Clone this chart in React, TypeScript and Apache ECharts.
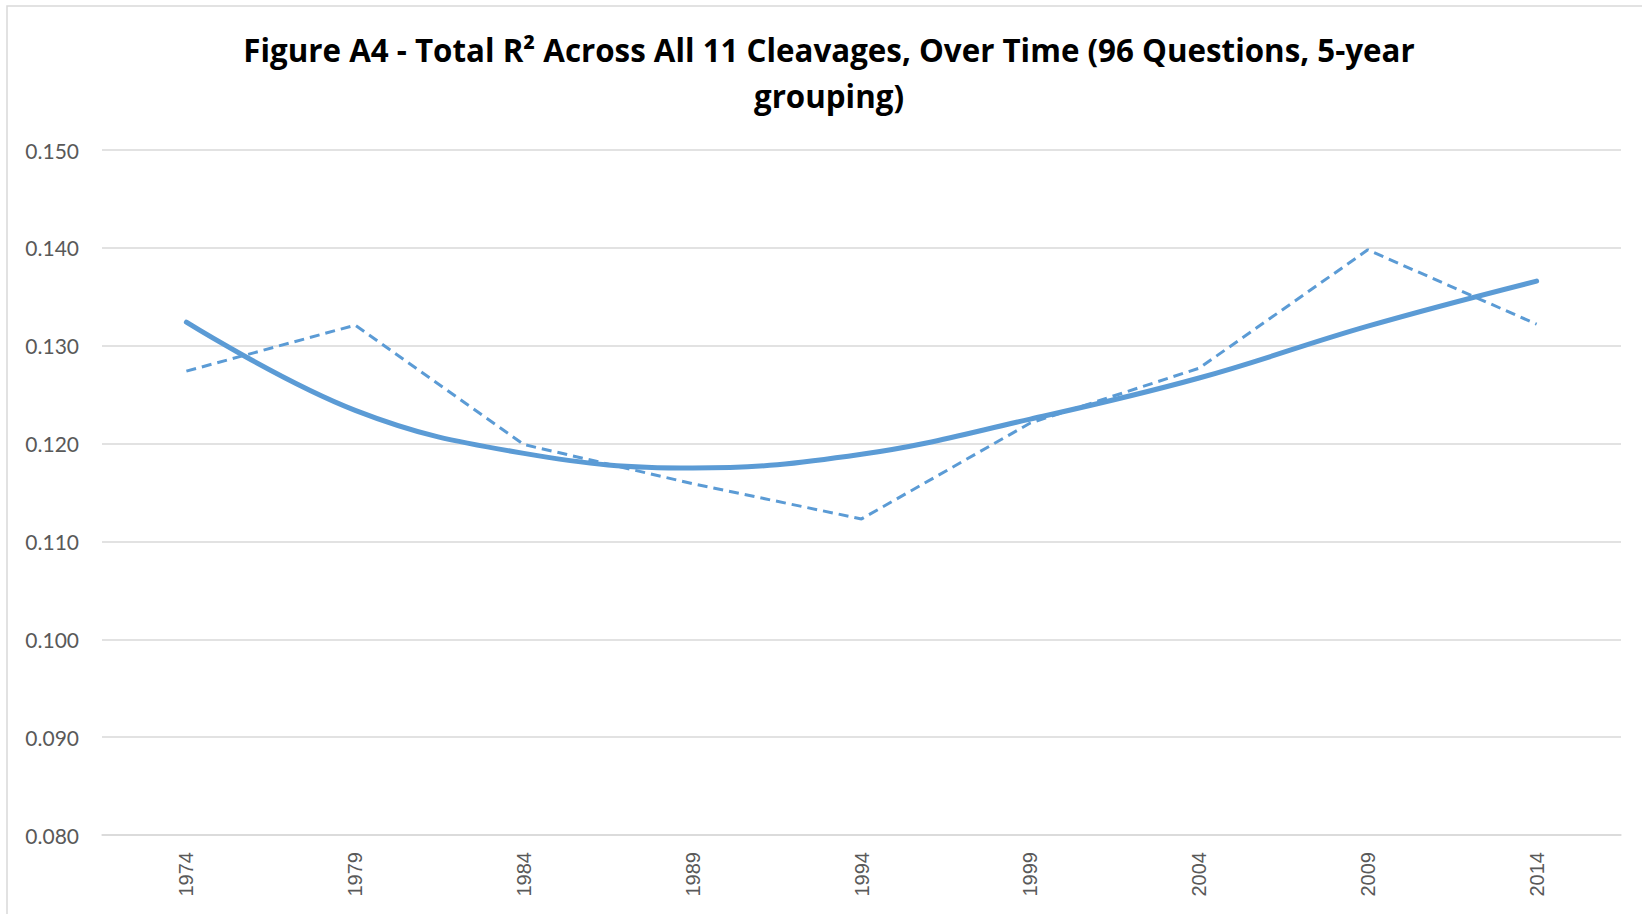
import React, { useEffect, useRef } from "react";
import * as echarts from "echarts";

const years = ["1974", "1979", "1984", "1989", "1994", "1999", "2004", "2009", "2014"];
const totalR2 = [0.1274, 0.1321, 0.1199, 0.1159, 0.1123, 0.1221, 0.1277, 0.1398, 0.1322];
const trendR2 = [0.1324, 0.1234, 0.119, 0.1175, 0.1189, 0.1225, 0.1267, 0.1320, 0.1366];
const titleLines = [
  "Figure A4 - Total R\u00B2 Across All 11 Cleavages, Over Time (96 Questions, 5-year",
  "grouping)",
];

export default function App() {
  const ref = useRef<HTMLDivElement>(null);
  useEffect(() => {
    if (!ref.current) return;
    const chart = echarts.init(ref.current, undefined, { renderer: "svg" });
    const blue = "#5B9BD5";
    chart.setOption({
      animation: false,
      backgroundColor: "#ffffff",
      title: {
        text: titleLines.join("\n"),
        left: 829,
        top: 27,
        padding: 0,
        textAlign: "center",
        textStyle: {
          fontFamily: "Open Sans",
          fontWeight: "bold",
          fontSize: 31.3,
          lineHeight: 46,
          color: "#000000",
        },
      },
      graphic: [
        {
          type: "rect",
          shape: { x: 7, y: 6, width: 1660, height: 930 },
          style: { fill: "none", stroke: "#d9d9d9", lineWidth: 1.5 },
          silent: true,
        },
      ],
      grid: { left: 102, right: 21, top: 150, bottom: 79 },
      xAxis: {
        type: "category",
        data: years,
        boundaryGap: true,
        axisTick: { show: false },
        axisLine: { show: true, lineStyle: { color: "#d9d9d9", width: 1.5 } },
        axisLabel: {
          rotate: 90,
          margin: 17,
          fontFamily: "Liberation Sans",
          fontSize: 20,
          color: "#595959",
        },
      },
      yAxis: {
        type: "value",
        min: 0.08,
        max: 0.15,
        interval: 0.01,
        axisLine: { show: false },
        axisTick: { show: false },
        splitLine: { lineStyle: { color: "#d9d9d9", width: 1.5 } },
        axisLabel: {
          margin: 23,
          fontFamily: "Lato",
          fontSize: 21,
          color: "#595959",
          formatter: (v: number) => v.toFixed(3),
        },
      },
      series: [
        {
          name: "Total R2",
          type: "line",
          data: totalR2,
          symbol: "none",
          lineStyle: { color: blue, width: 3, type: [10, 6] },
          z: 3,
        },
        {
          name: "Trend",
          type: "line",
          data: trendR2,
          symbol: "none",
          smooth: 0.4,
          lineStyle: { color: blue, width: 5, cap: "round" },
          z: 2,
        },
      ],
    });
    return () => chart.dispose();
  }, []);
  return (
    <div
      ref={ref}
      style={{ position: "fixed", left: 0, top: 0, width: 1642, height: 914 }}
    />
  );
}
